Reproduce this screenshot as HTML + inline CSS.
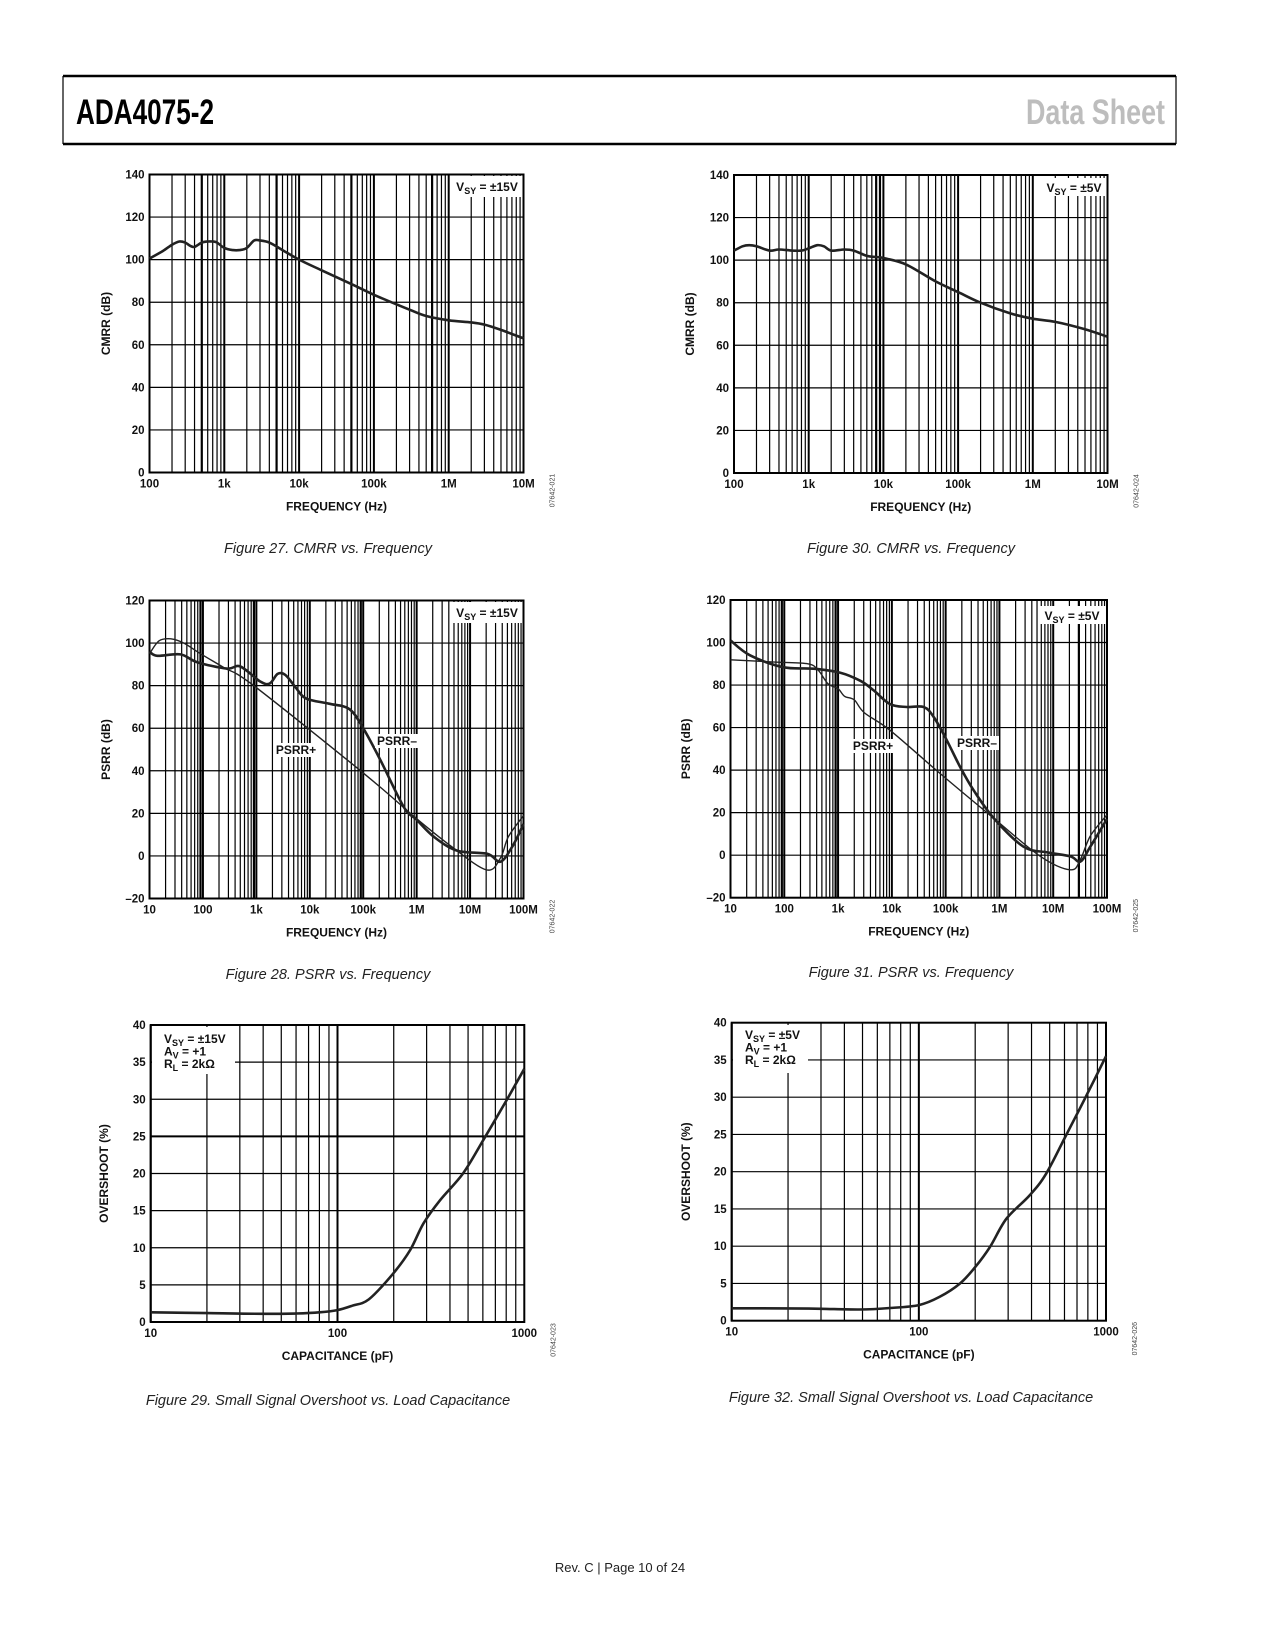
<!DOCTYPE html>
<html><head><meta charset="utf-8">
<style>
html,body{margin:0;padding:0;background:#fff;}
svg{display:block;}
text{font-family:"Liberation Sans",sans-serif;}
.tk{font-size:11.5px;font-weight:bold;fill:#111;}
.at{font-size:12px;font-weight:bold;fill:#111;}
.cap{font-size:14.5px;font-style:italic;fill:#222;}
.code{font-size:7px;fill:#444;}
</style></head>
<body>
<svg id="page" width="1275" height="1650" viewBox="0 0 1275 1650" xmlns="http://www.w3.org/2000/svg">
<g>
<line x1="63" y1="76" x2="1176" y2="76" stroke="#000" stroke-width="2.5"/>
<line x1="63" y1="144" x2="1176" y2="144" stroke="#000" stroke-width="2.5"/>
<line x1="63" y1="76" x2="63" y2="144" stroke="#000" stroke-width="1.2"/>
<line x1="1176" y1="76" x2="1176" y2="144" stroke="#000" stroke-width="1.2"/>
<text x="76" y="124" textLength="138" lengthAdjust="spacingAndGlyphs" style="font-family:'Liberation Sans Narrow','Liberation Sans',sans-serif;font-size:35px;font-weight:bold;fill:#000">ADA4075-2</text>
<text x="1026" y="124" textLength="139" lengthAdjust="spacingAndGlyphs" style="font-family:'Liberation Sans Narrow','Liberation Sans',sans-serif;font-size:35px;font-weight:bold;fill:#bdbdbd">Data Sheet</text>
</g>
<text x="328" y="553" text-anchor="middle" class="cap">Figure 27. CMRR vs. Frequency</text>
<text x="911" y="553" text-anchor="middle" class="cap">Figure 30. CMRR vs. Frequency</text>
<text x="328" y="979" text-anchor="middle" class="cap">Figure 28. PSRR vs. Frequency</text>
<text x="911" y="977" text-anchor="middle" class="cap">Figure 31. PSRR vs. Frequency</text>
<text x="328" y="1405" text-anchor="middle" class="cap">Figure 29. Small Signal Overshoot vs. Load Capacitance</text>
<text x="911" y="1402" text-anchor="middle" class="cap">Figure 32. Small Signal Overshoot vs. Load Capacitance</text>
<text x="620" y="1572" text-anchor="middle" style="font-size:13px;fill:#222">Rev. C | Page 10 of 24</text>
</svg>
<script>
// ---- Data: Figure 27 CMRR ±15V ----
const cmrrLFreq = [100,150,200,250,300,350,400,500,600,700,800,1000,1300,1600,2000,2500,3000,4000,6000,10000,20000,50000,100000,200000,300000,500000,1000000,2000000,3000000,5000000,10000000];
const cmrrLdB =   [100.5,104,107,108.5,108,106.5,106,108,108.5,108.5,108,105.5,104.5,104.5,105.5,109,109,108,104.5,100,95,88.5,83.5,79,76.5,73.5,71.5,70.5,69.5,67,63];
// ---- Data: Figure 30 CMRR ±5V ----
const cmrrRFreq = [100,130,160,200,300,400,600,800,1000,1300,1600,2000,3000,4000,6000,8000,10000,20000,50000,100000,200000,500000,1000000,2000000,5000000,10000000];
const cmrrRdB =   [104.5,106.5,107,106.5,104.5,105,104.5,104.5,105.5,107,106.5,104.5,105,104.5,102,101.5,101,98,90,85,80,75,72.5,71,67.5,64];
// ---- Data: Figure 28 PSRR ±15V ----
const psrrLPlusFreq = [10,15,25,44,90,245,890,100000,1000000,4200000,20000000,37000000,52000000,100000000];
const psrrLPlusdB =   [95,101,102,100,95,88.5,80,39,17.5,5,-6.5,-1,9,19];
const psrrLMinusFreq = [10,14,38,78,280,500,1170,1780,2500,3500,5500,8500,23000,55000,100000,210000,575000,1000000,2100000,5700000,21000000,37000000,62000000,100000000];
const psrrLMinusdB =   [96,94,94.7,91,88,89,82,81,85.5,85,79,74,71.5,69,60,45,23,17,9,2.5,1,-2.7,4.5,15];
// ---- Data: Figure 31 PSRR ±5V ----
const psrrRPlusFreq = [10,66,275,430,650,1000,1320,2000,3100,9300,79000,790000,5800000,21000000,32000000,49000000,100000000];
const psrrRPlusdB =   [91.9,90.8,90,86.9,80.6,78.3,74.7,73,66.9,58.7,38.4,17.3,-0.6,-6.9,-2,9,19];
const psrrRMinusFreq = [10,23,95,350,1100,2600,4600,9300,19000,39000,60000,105000,186000,330000,790000,2800000,7800000,21000000,32000000,49000000,100000000];
const psrrRMinusdB =   [101,94,88.4,87.7,85.8,82,77.5,71,69.7,69.7,65,54,41.5,30.6,17.3,4,1.3,-0.6,-3,4,17];
// ---- Data: Figure 29 Overshoot ±15V ----
const ovLCap = [10,20,40,60,80,100,120,147,199,245,289,354,470,603,805,1000];
const ovLPct = [1.3,1.2,1.1,1.15,1.3,1.6,2.2,3.05,6.55,9.7,13.3,16.4,20,24.5,29.9,34.1];
// ---- Data: Figure 32 Overshoot ±5V ----
const ovRCap = [10,20,30,48,70,100,129,166,200,240,294,390,478,615,793,1000];
const ovRPct = [1.66,1.65,1.6,1.5,1.7,2.1,3.2,5.0,7.2,9.9,13.7,16.8,19.7,25,30.4,35.5];
// ---- Tick labels ----
const cmrrXLabels = ["100","1k","10k","100k","1M","10M"];
const cmrrYTicks = [0,20,40,60,80,100,120,140];
const psrrXLabels = ["10","100","1k","10k","100k","1M","10M","100M"];
const psrrYTicks = [-20,0,20,40,60,80,100,120];
const ovXLabels = ["10","100","1000"];
const ovYTicks = [0,5,10,15,20,25,30,35,40];

const NS = "http://www.w3.org/2000/svg";
const page = document.getElementById('page');
function mk(tag, attrs, parent){ const e=document.createElementNS(NS,tag); for(const k in attrs) e.setAttribute(k,attrs[k]); parent.appendChild(e); return e; }
function txt(parent,x,y,s,cls,anchor){ const t=mk('text',{x:x,y:y,'class':cls,'text-anchor':anchor||'middle'},parent); t.textContent=s; return t; }
function smoothPath(pts){
  let d='M'+pts[0][0].toFixed(1)+','+pts[0][1].toFixed(1);
  for(let i=0;i<pts.length-1;i++){
    const p0=pts[i-1]||pts[i], p1=pts[i], p2=pts[i+1], p3=pts[i+2]||p2;
    const c1=[p1[0]+(p2[0]-p0[0])/6, p1[1]+(p2[1]-p0[1])/6];
    const c2=[p2[0]-(p3[0]-p1[0])/6, p2[1]-(p3[1]-p1[1])/6];
    d+=' C'+c1[0].toFixed(1)+','+c1[1].toFixed(1)+' '+c2[0].toFixed(1)+','+c2[1].toFixed(1)+' '+p2[0].toFixed(1)+','+p2[1].toFixed(1);
  }
  return d;
}
function chart(c){
  const g=mk('g',{},page);
  
  
  const xs=v=>c.x0+(Math.log10(v)-c.lx0)/(c.lx1-c.lx0)*(c.x1-c.x0);
  const ys=v=>c.y1-(v-c.v0)/(c.v1-c.v0)*(c.y1-c.y0);
  for(let d=c.lx0; d<c.lx1; d++){
    for(let m=1;m<=9;m++){
      const v=m*Math.pow(10,d); const x=xs(v);
      const w=(m===1)?2:((c.thick&&c.thick.indexOf(v)>=0)?2.2:1.2);
      const l=mk('line',{x1:x,y1:c.y0,x2:x,y2:c.y1,stroke:'#000','stroke-width':w},g);
      
      
    }
  }
  c.yTicks.forEach(v=>{
    const y=ys(v);
    const l=mk('line',{x1:c.x0,y1:y,x2:c.x1,y2:y,stroke:'#000','stroke-width':(c.thickY===v)?2:1.2},g);
    
    
    const t=txt(g,c.x0-5,y+4,String(v).replace('-','\u2013'),'tk','end');
    
    
  });
  mk('rect',{x:c.x0,y:c.y0,width:c.x1-c.x0,height:c.y1-c.y0,fill:'none',stroke:'#000','stroke-width':2},g);
  c.xLabels.forEach((s,i)=>{
    const t=txt(g,xs(Math.pow(10,c.lx0+i)),c.y1+15,s,'tk');
    
    
  });
  const xt=txt(g,(c.x0+c.x1)/2,c.y1+38,c.xTitle,'at');
  
  
  const yt=mk('text',{x:0,y:0,'class':'at','text-anchor':'middle',transform:'translate('+c.ytX+','+((c.y0+c.y1)/2)+') rotate(-90)'},g);
  yt.textContent=c.yTitle;
  
  
  const cd=mk('text',{x:0,y:0,'class':'code','text-anchor':'middle',transform:'translate('+(c.x1+31)+','+(c.y1+18)+') rotate(-90)'},g);
  cd.textContent=c.code;
  
  
  if(c.legend){
    const L=c.legend;
    mk('rect',{x:L.x,y:L.y,width:L.w,height:L.h,fill:'#fff'},g);
    L.lines.forEach((ln,i)=>{
      const t=mk('text',{x:L.tx,y:L.ty+i*12.5,'class':'at','text-anchor':L.anchor||'start'},g);
      t.innerHTML=ln;
      
      
    });
  }
  c.series.forEach(s=>{
    const pts=s.x.map((v,i)=>[xs(v),ys(s.y[i])]);
    const p=mk('path',{d:smoothPath(pts),fill:'none',stroke:'#222','stroke-width':s.w,'stroke-linejoin':'round'},g);
    
    
  });
  (c.labels||[]).forEach(lb=>{
    mk('rect',{x:lb.x-22,y:lb.y-11,width:44,height:14,fill:'#fff'},g);
    const t=txt(g,lb.x,lb.y,lb.s,'at');
    
    
  });
}
const vsy=s=>'V<tspan dy="3" font-size="9">SY</tspan><tspan dy="-3"> = ±'+s+'V</tspan>';
chart({name:'cmrr-15v-chart',x0:149.5,x1:523.5,y0:174.5,y1:472.5,lx0:2,lx1:7,v0:0,v1:140,yTicks:cmrrYTicks,xLabels:cmrrXLabels,
  xTitle:'FREQUENCY (Hz)',yTitle:'CMRR (dB)',ytX:110,code:'07642-021',thick:[500,5000,50000,600000],
  legend:{x:452,y:176,w:70,h:21,tx:487,ty:191,anchor:'middle',lines:[vsy('15')]},
  series:[{name:'cmrr-curve',x:cmrrLFreq,y:cmrrLdB,w:2.6}]});
chart({name:'cmrr-5v-chart',x0:734,x1:1107.5,y0:175,y1:473,lx0:2,lx1:7,v0:0,v1:140,yTicks:cmrrYTicks,xLabels:cmrrXLabels,
  xTitle:'FREQUENCY (Hz)',yTitle:'CMRR (dB)',ytX:694,code:'07642-024',thick:[8000,9000,100000,1000000],
  legend:{x:1042,y:178,w:64,h:18,tx:1074,ty:192,anchor:'middle',lines:[vsy('5')]},
  series:[{name:'cmrr-curve',x:cmrrRFreq,y:cmrrRdB,w:2.6}]});
chart({name:'psrr-15v-chart',x0:149.5,x1:523.5,y0:600.5,y1:898.5,lx0:1,lx1:8,v0:-20,v1:120,yTicks:psrrYTicks,xLabels:psrrXLabels,
  xTitle:'FREQUENCY (Hz)',yTitle:'PSRR (dB)',ytX:110,code:'07642-022',thick:[90,900,90000,1000000],
  legend:{x:451,y:602,w:71,h:21,tx:487,ty:617,anchor:'middle',lines:[vsy('15')]},
  series:[{name:'psrr-plus-curve',x:psrrLPlusFreq,y:psrrLPlusdB,w:1.4},{name:'psrr-minus-curve',x:psrrLMinusFreq,y:psrrLMinusdB,w:2.6}],
  labels:[{x:296,y:754,s:'PSRR+'},{x:397,y:745,s:'PSRR\u2013'}]});
chart({name:'psrr-5v-chart',x0:730.5,x1:1107,y0:600,y1:897.7,lx0:1,lx1:8,v0:-20,v1:120,yTicks:psrrYTicks,xLabels:psrrXLabels,
  xTitle:'FREQUENCY (Hz)',yTitle:'PSRR (dB)',ytX:690,code:'07642-025',thick:[90,900,10000,100000,1000000,30000000],
  legend:{x:1038,y:606,w:68,h:18,tx:1072,ty:620,anchor:'middle',lines:[vsy('5')]},
  series:[{name:'psrr-plus-curve',x:psrrRPlusFreq,y:psrrRPlusdB,w:1.4},{name:'psrr-minus-curve',x:psrrRMinusFreq,y:psrrRMinusdB,w:2.6}],
  labels:[{x:873,y:750,s:'PSRR+'},{x:977,y:747,s:'PSRR\u2013'}]});
chart({name:'overshoot-15v-chart',x0:150.7,x1:524.3,y0:1025,y1:1322,lx0:1,lx1:3,v0:0,v1:40,yTicks:ovYTicks,xLabels:ovXLabels,thickY:25,
  xTitle:'CAPACITANCE (pF)',yTitle:'OVERSHOOT (%)',ytX:108,code:'07642-023',
  legend:{x:152,y:1027,w:83,h:47,tx:164,ty:1043,lines:[vsy('15'),'A<tspan dy="3" font-size="9">V</tspan><tspan dy="-3"> = +1</tspan>','R<tspan dy="3" font-size="9">L</tspan><tspan dy="-3"> = 2kΩ</tspan>']},
  series:[{name:'overshoot-curve',x:ovLCap,y:ovLPct,w:2.6}]});
chart({name:'overshoot-5v-chart',x0:731.7,x1:1106,y0:1022.7,y1:1320.7,lx0:1,lx1:3,v0:0,v1:40,yTicks:ovYTicks,xLabels:ovXLabels,
  xTitle:'CAPACITANCE (pF)',yTitle:'OVERSHOOT (%)',ytX:690,code:'07642-026',
  legend:{x:733,y:1025,w:75,h:48,tx:745,ty:1039,lines:[vsy('5'),'A<tspan dy="3" font-size="9">V</tspan><tspan dy="-3"> = +1</tspan>','R<tspan dy="3" font-size="9">L</tspan><tspan dy="-3"> = 2kΩ</tspan>']},
  series:[{name:'overshoot-curve',x:ovRCap,y:ovRPct,w:2.6}]});
</script>
</body></html>
